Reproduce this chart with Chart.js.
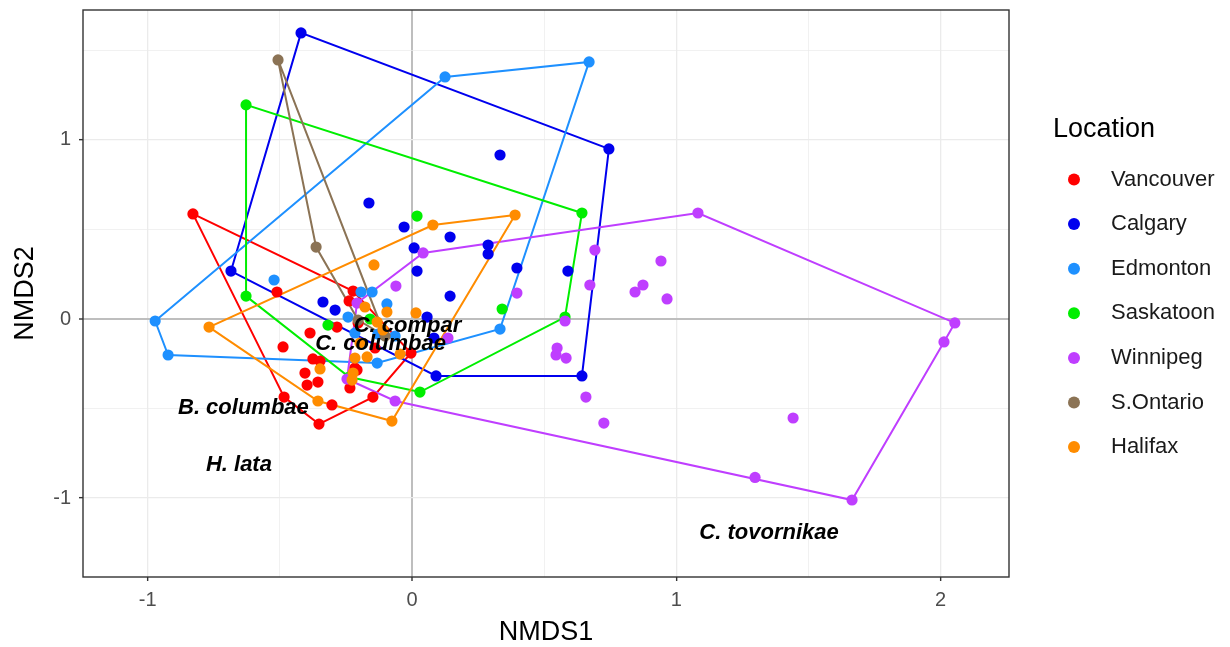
<!DOCTYPE html>
<html>
<head>
<meta charset="utf-8">
<title>NMDS by location</title>
<script src="https://cdn.jsdelivr.net/npm/chart.js@4.4.0/dist/chart.umd.min.js"></script>
<style>
  body { margin: 0; background: #fff; }
  canvas { display: block; }
</style>
</head>
<body>
<canvas id="myChart" width="1230" height="647"></canvas>
<script>
// NMDS site scores, one list per location: [NMDS1, NMDS2]
var vancouver = [[-0.829,0.587],[-0.223,0.156],[-0.004,-0.190],[-0.148,-0.436],[-0.352,-0.587],[-0.484,-0.436],
  [-0.511,0.151],[-0.488,-0.156],[-0.386,-0.078],[-0.284,-0.045],[-0.375,-0.223],[-0.348,-0.235],[-0.405,-0.302],
  [-0.356,-0.352],[-0.397,-0.369],[-0.235,-0.385],[-0.208,-0.285],[-0.303,-0.480],[-0.204,-0.022],[-0.140,-0.162],
  [-0.216,-0.274],[-0.238,0.101]]
var calgary = [[-0.420,1.598],[0.745,0.950],[0.643,-0.318],[0.091,-0.318],[-0.685,0.268],[0.333,0.916],[-0.163,0.648],
  [-0.030,0.514],[0.144,0.458],[0.008,0.397],[0.288,0.413],[0.288,0.363],[0.019,0.268],[0.397,0.285],[0.590,0.268],
  [0.144,0.128],[-0.337,0.095],[-0.291,0.050],[0.057,0.011],[0.083,-0.106]]
var edmonton = [[-0.972,-0.011],[-0.923,-0.201],[-0.132,-0.246],[0.333,-0.056],[0.670,1.436],[0.125,1.352],[-0.522,0.218],
  [-0.193,0.151],[-0.151,0.151],[-0.095,0.084],[-0.242,0.011],[-0.216,-0.078],[-0.129,-0.084],[-0.064,-0.095],[-0.189,-0.140]]
var saskatoon = [[-0.628,1.196],[0.643,0.592],[0.579,0.011],[0.030,-0.408],[-0.238,-0.324],[-0.628,0.128],[0.019,0.575],
  [-0.318,-0.034],[0.341,0.056],[-0.159,0.000]]
var winnipeg = [[1.082,0.592],[2.054,-0.022],[2.013,-0.128],[1.665,-1.011],[1.298,-0.885],[1.442,-0.553],[-0.064,-0.458],
  [-0.246,-0.335],[-0.208,0.089],[0.042,0.369],[-0.061,0.184],[0.397,0.145],[0.136,-0.106],[0.692,0.385],[0.673,0.190],
  [0.942,0.324],[0.874,0.190],[0.844,0.151],[0.965,0.112],[0.579,-0.011],[0.549,-0.162],[0.545,-0.201],[0.583,-0.218],
  [0.658,-0.436],[0.726,-0.581]]
var sOntario = [[-0.507,1.447],[-0.363,0.402],[-0.204,-0.006],[-0.102,-0.095]]
var halifax = [[-0.768,-0.045],[0.079,0.525],[0.390,0.581],[-0.076,-0.570],[-0.356,-0.458],[-0.144,0.302],[0.015,0.034],
  [-0.178,0.067],[-0.095,0.039],[-0.132,-0.017],[-0.348,-0.279],[-0.216,-0.218],[-0.170,-0.212],[-0.045,-0.196],
  [-0.223,-0.302],[-0.227,-0.341],[-0.197,-0.134],[-0.110,-0.061]]

var locations = ["Vancouver","Calgary","Edmonton","Saskatoon","Winnipeg","S.Ontario","Halifax"]
var sites = [vancouver, calgary, edmonton, saskatoon, winnipeg, sOntario, halifax]
var colours = ["#FF0000","#0000EE","#1E90FF","#00EE00","#BF3EFF","#8B7355","#FF8C00"]

// species scores
var species = ["C. compar","C. columbae","B. columbae","H. lata","C. tovornikae"]
var speciesX = [-0.017,-0.119,-0.638,-0.655,1.351]
var speciesY = [-0.039,-0.140,-0.497,-0.816,-1.196]

var xTicks = [-1, 0, 1, 2]
var yTicks = [-1, 0, 1]

var FONT = '"Liberation Sans", Arial, sans-serif'
Chart.defaults.font.family = FONT

// convex hull (monotone chain), returned closed
function chull(pts) {
  var p = pts.slice().sort(function(a, b){ return a[0] - b[0] || a[1] - b[1] })
  var cross = function(o, a, b){ return (a[0]-o[0])*(b[1]-o[1]) - (a[1]-o[1])*(b[0]-o[0]) }
  var lower = [], upper = []
  for (var i = 0; i < p.length; i++) {
    while (lower.length >= 2 && cross(lower[lower.length-2], lower[lower.length-1], p[i]) <= 0) lower.pop()
    lower.push(p[i])
  }
  for (var j = p.length - 1; j >= 0; j--) {
    while (upper.length >= 2 && cross(upper[upper.length-2], upper[upper.length-1], p[j]) <= 0) upper.pop()
    upper.push(p[j])
  }
  upper.pop(); lower.pop()
  var h = lower.concat(upper)
  h.push(h[0])
  return h
}

function toXY(list) {
  return list.map(function(d){ return {x: d[0], y: d[1]} })
}

var datasets = []
sites.forEach(function(pts, i){
  datasets.push({
    label: locations[i] + " hull",
    data: toXY(chull(pts)),
    showLine: true,
    borderColor: colours[i],
    borderWidth: 2,
    pointRadius: 0,
    fill: false,
    tension: 0,
    order: 50 - i
  })
  datasets.push({
    label: locations[i],
    data: toXY(pts),
    backgroundColor: colours[i],
    borderWidth: 0,
    pointRadius: 5.6,
    pointHoverRadius: 5.6,
    order: 20 - i
  })
})

function isMajor(ticks, v) {
  return ticks.indexOf(Math.round(v * 1000) / 1000) >= 0
}

function gridColour(ctx) {
  var v = ctx.tick ? ctx.tick.value : null
  if (v === 0) return "#BEBEBE"
  return "#EBEBEB"
}

var speciesLabels = {
  id: "speciesLabels",
  afterDatasetsDraw: function(chart) {
    var ctx = chart.ctx, xs = chart.scales.x, ys = chart.scales.y
    ctx.save()
    ctx.font = "italic bold 22px " + FONT
    ctx.fillStyle = "#000"
    ctx.textAlign = "center"
    ctx.textBaseline = "middle"
    for (var i = 0; i < species.length; i++) {
      ctx.fillText(species[i], xs.getPixelForValue(speciesX[i]), ys.getPixelForValue(speciesY[i]))
    }
    ctx.restore()
  }
}

var panelAndLegend = {
  id: "panelAndLegend",
  afterDraw: function(chart) {
    var ctx = chart.ctx, a = chart.chartArea
    ctx.save()
    ctx.strokeStyle = "#333333"
    ctx.lineWidth = 1.4
    ctx.strokeRect(a.left, a.top, a.right - a.left, a.bottom - a.top)

    ctx.textBaseline = "middle"
    ctx.textAlign = "left"
    ctx.fillStyle = "#000"
    ctx.font = "27px " + FONT
    ctx.fillText("Location", 1053, 130)
    ctx.font = "22px " + FONT
    for (var i = 0; i < locations.length; i++) {
      var y = 179.5 + 44.6 * i
      ctx.fillStyle = colours[i]
      ctx.beginPath()
      ctx.arc(1074, y, 6, 0, Math.PI * 2)
      ctx.fill()
      ctx.fillStyle = "#1A1A1A"
      ctx.fillText(locations[i], 1111, y)
    }
    ctx.restore()
  }
}

var myChart = document.getElementById("myChart").getContext("2d")
var chart = new Chart(myChart, {
  type: "scatter",
  data: { datasets: datasets },
  options: {
    responsive: false,
    animation: false,
    devicePixelRatio: 1,
    events: [],
    layout: { padding: { top: 10, right: 221, left: 0, bottom: 0 } },
    plugins: { legend: { display: false }, tooltip: { enabled: false } },
    scales: {
      x: {
        type: "linear",
        min: -1.245,
        max: 2.259,
        afterFit: function(s){ s.height = 70; s.paddingLeft = 0; s.paddingRight = 0 },
        border: { display: false },
        grid: {
          color: gridColour,
          lineWidth: function(ctx){ return ctx.tick.value === 0 ? 2 : (isMajor(xTicks, ctx.tick.value) ? 1.3 : 0.7) },
          tickLength: 4,
          tickWidth: 1.4,
          tickColor: function(ctx){ return isMajor(xTicks, ctx.tick.value) ? "#333333" : "rgba(0,0,0,0)" }
        },
        ticks: {
          stepSize: 0.5,
          includeBounds: false,
          maxRotation: 0,
          autoSkip: false,
          padding: 7,
          color: "#4D4D4D",
          font: { size: 20 },
          callback: function(v){ return isMajor(xTicks, v) ? String(Math.round(v)) : "" }
        },
        title: { display: true, text: "NMDS1", color: "#000", font: { size: 27, lineHeight: 1.1 }, padding: 0 }
      },
      y: {
        type: "linear",
        min: -1.441,
        max: 1.726,
        afterFit: function(s){ s.width = 83; s.paddingTop = 0; s.paddingBottom = 0 },
        border: { display: false },
        grid: {
          color: gridColour,
          lineWidth: function(ctx){ return ctx.tick.value === 0 ? 2 : (isMajor(yTicks, ctx.tick.value) ? 1.3 : 0.7) },
          tickLength: 4,
          tickWidth: 1.4,
          tickColor: function(ctx){ return isMajor(yTicks, ctx.tick.value) ? "#333333" : "rgba(0,0,0,0)" }
        },
        ticks: {
          stepSize: 0.5,
          includeBounds: false,
          autoSkip: false,
          padding: 8,
          color: "#4D4D4D",
          font: { size: 20 },
          callback: function(v){ return isMajor(yTicks, v) ? String(Math.round(v)) : "" }
        },
        title: { display: true, text: "NMDS2", color: "#000", font: { size: 27, lineHeight: 1.1 }, padding: { top: 11, bottom: 0 } }
      }
    }
  },
  plugins: [speciesLabels, panelAndLegend]
})
</script>
</body>
</html>
